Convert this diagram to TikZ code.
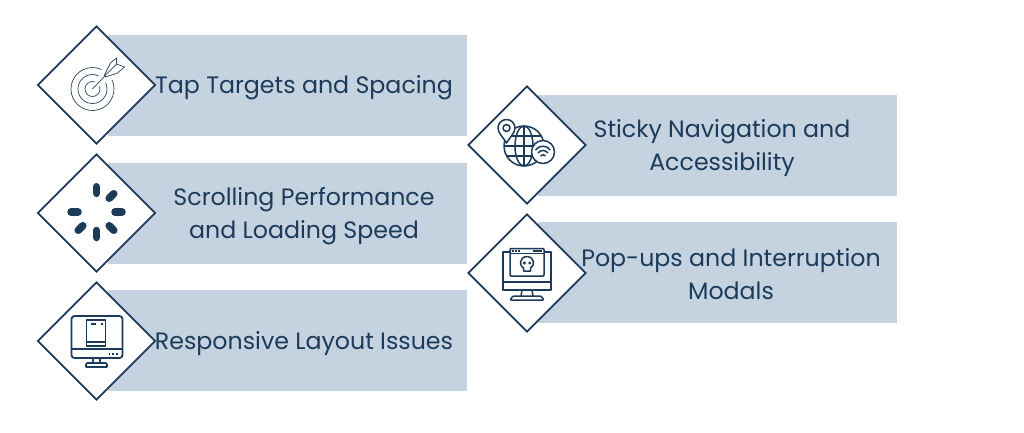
\documentclass[tikz,border=0pt]{standalone}
\usetikzlibrary{shapes.geometric}
\usepackage{fontspec}
\setmainfont{Poppins}
\definecolor{navy}{HTML}{1C3B5A}
\definecolor{band}{HTML}{C5D3E1}
\tikzset{
 x=1pt,y=-1pt,
 bandbox/.style={fill=band,draw=none,minimum width=359pt,minimum height=101pt,inner sep=0pt,anchor=west},
 gem/.style={shape=diamond,shape aspect=1,draw=navy,line width=1.7pt,fill=white,minimum width=118pt,minimum height=118pt,inner sep=0pt},
 lab/.style={text=navy,font=\fontsize{23.7}{33}\selectfont,align=center,inner sep=0pt},
 ico/.style={draw=navy,line width=1.8pt,line join=round},
 thin ico/.style={draw=navy!85!gray,line width=.7pt},
 spoke/.style={draw=navy,line width=7.5pt,line cap=round},
}
\begin{document}
\begin{tikzpicture}
\useasboundingbox (0,0) rectangle (1024,432);
\fill[white] (0,0) rectangle (1024,432);
% bands
\node[bandbox] (b1) at (108,85.5) {};
\node[bandbox] (b2) at (108,213) {};
\node[bandbox] (b3) at (108,340.5) {};
\node[bandbox] (b4) at (538,145) {};
\node[bandbox] (b5) at (538,272.5) {};
% diamonds
\node[gem] (d1) at (96.5,85) {};
\node[gem] (d2) at (96.5,213) {};
\node[gem] (d3) at (96.5,341) {};
\node[gem] (d4) at (527,145) {};
\node[gem] (d5) at (527,273) {};
% labels
\node[lab] (t1) at (304,88) {Tap Targets and Spacing};
\node[lab] (t2) at (304,216) {Scrolling Performance\\and Loading Speed};
\node[lab] (t3) at (304,343.5) {Responsive Layout Issues};
\node[lab] (t4) at (722,148) {Sticky Navigation and\\Accessibility};
\node[lab] (t5) at (731,274.5) {Pop-ups and Interruption\\Modals};
% target icon
\begin{scope}[shift={(d1.center)},thin ico]
 \draw (-4,4) ++(-25:21.5) arc[start angle=-25,end angle=295,radius=21.5];
 \draw (-4,4) ++(-25:14.5) arc[start angle=-25,end angle=295,radius=14.5];
 \draw (-4,4) ++(-20:7.5) arc[start angle=-20,end angle=290,radius=7.5];
 \draw (-4,4) -- (13,-14);
 \draw (8,-10) -- (14,-22) -- (20,-27) -- (20,-21) -- (28,-18) -- (21,-12) -- (9,-8) -- cycle;
 \draw (13,-14) -- (20,-21);
\end{scope}
% spinner icon
\begin{scope}[shift={(d2.center)}]
 \draw[spoke] (0,-26.3) -- (0,-19.7);
 \draw[spoke] (12.7,-14.7) -- (17.3,-19.3);
 \draw[spoke] (18.5,-1) -- (25.5,-1);
 \draw[spoke] (12.7,12.7) -- (17.3,17.3);
 \draw[spoke] (0,17.5) -- (0,24.5);
 \draw[spoke] (-18.3,17.3) -- (-13.7,12.7);
 \draw[spoke] (-25.5,-1) -- (-18.5,-1);
\end{scope}
% monitor with phone
\begin{scope}[shift={(d3.center)},ico]
 \draw[rounded corners=3pt] (-25,-25) rectangle (26,17);
 \draw (-25,8) -- (26,8);
 \draw (-3,17) -- (-4,22) (3,17) -- (4,22);
 \draw[rounded corners=1pt] (-11,26) -- (-10,22) -- (10,22) -- (11,26) -- cycle;
 \draw[line width=1.2pt] (-10,-21) rectangle (9,5);
 \draw[line width=1.2pt] (-10,1) -- (9,1);
 \draw[line width=1.2pt] (-6,-17) -- (-1,-17) (4,-17) -- (6,-17);
 \draw[line width=1.5pt,dash pattern=on 1.6pt off 2.2pt] (12,13) -- (22,13);
\end{scope}
% globe icon
\begin{scope}[shift={(d4.center)},ico,line width=1.5pt]
 \draw (-3,1) circle[radius=20];
 \draw (-3,1) ellipse[x radius=9,y radius=20];
 \draw (-3,-19) -- (-3,21);
 \draw (-23,1) -- (17,1);
 \draw (-20,-9) -- (14,-9);
 \draw (-20,11) -- (14,11);
 \draw[fill=white] (-20.5,-2) .. controls (-24,-8) and (-29,-12) .. (-29,-17) arc[start angle=180,end angle=360,radius=8.5] .. controls (-12,-12) and (-17,-8) .. (-20.5,-2) -- cycle;
 \draw (-20.5,-17) circle[radius=3.5];
 \draw[fill=white] (16,7) circle[radius=11.5];
 \draw (8.5,5) arc[start angle=215,end angle=325,radius=9];
 \draw (11,8) arc[start angle=215,end angle=325,radius=6];
 \draw (13.5,11) arc[start angle=215,end angle=325,radius=3];
\end{scope}
% monitor with skull
\begin{scope}[shift={(d5.center)},ico,line width=1.5pt]
 \draw (-17,-21) -- (-24,-21) -- (-24,17) -- (24,17) -- (24,-21) -- (17,-21);
 \draw (-24,9) -- (24,9);
 \draw (-5,17) -- (-6,23) (5,17) -- (6,23);
 \draw[rounded corners=1pt] (-17,27) -- (-14,23) -- (14,23) -- (17,27) -- cycle;
 \draw[rounded corners=1pt] (-17,-24.5) rectangle (17,3);
 \draw (-17,-19.5) -- (17,-19.5);
 \draw[line width=1.2pt,dash pattern=on 1.5pt off 1.6pt] (-15,-22) -- (-6,-22);
 \draw[line width=1.2pt] (6,-22) -- (15,-22);
 \draw (-3.5,-2) -- (-3.5,-5) .. controls (-8,-7) and (-8,-16) .. (0,-16.5) .. controls (8,-16) and (8,-7) .. (3.5,-5) -- (3.5,-2) -- cycle;
 \fill[navy] (-2.7,-10) circle[radius=1.7] (2.7,-10) circle[radius=1.7];
\end{scope}
\end{tikzpicture}
\end{document}
